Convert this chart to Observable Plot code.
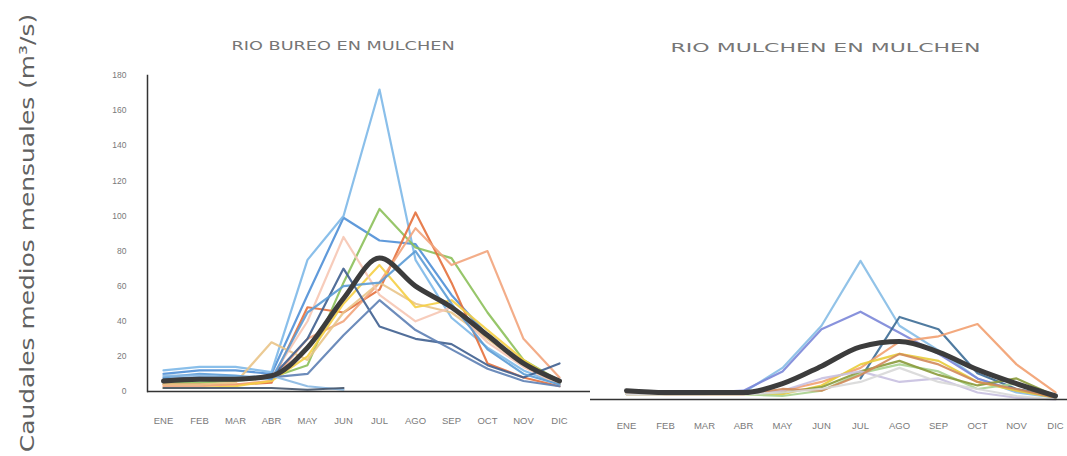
<!DOCTYPE html>
<html>
<head>
<meta charset="utf-8">
<script src="https://cdn.jsdelivr.net/npm/d3@7"></script>
<script src="https://cdn.jsdelivr.net/npm/@observablehq/plot@0.6"></script>
<style>
  body { margin: 0; background: #fff; }
  #wrap { position: relative; width: 1067px; height: 456px; overflow: hidden; background: #fff; }
  #left, #right { position: absolute; top: 0; }
  #left { left: 0; }
  #right { left: 590px; }
  .ttl { position: absolute; font-family: "DejaVu Sans", sans-serif; font-weight: 400;
         font-size: 13px; color: #767676; white-space: nowrap; }
  #ytitle { position: absolute; font-family: "DejaVu Sans", sans-serif;
            font-weight: 400; font-size: 20px; color: #616161; white-space: nowrap; }
</style>
</head>
<body>
<div id="wrap">
  <div id="left"></div>
  <div id="right"></div>
  <div class="ttl" id="t1"></div>
  <div class="ttl" id="t2"></div>
  <div id="ytitle"></div>
</div>
<script>
// ---- data ----
const months = ["ENE","FEB","MAR","ABR","MAY","JUN","JUL","AGO","SEP","OCT","NOV","DIC"];
const yTicks = [0, 20, 40, 60, 80, 100, 120, 140, 160, 180];
const titleBureo = "RIO BUREO EN MULCHEN";
const titleMulchen = "RIO MULCHEN EN MULCHEN";
const yTitle = "Caudales medios mensuales (m³/s)";

// Rio Bureo en Mulchen (one series per year)
const bureoA = [10, 12, 12, 10, 55, 99, 86, 84, 55, 32, 15, 5];
const bureoB = [12, 14, 14, 11, 75, 100, 172, 75, 42, 25, 12, 4];
const bureoC = [5, 5, 6, 8, 15, 62, 104, 82, 76, 45, 18, 6];
const bureoD = [4, 4, 4, 5, 48, 45, 58, 102, 62, 16, 8, 3];
const bureoE = [3, 3, 4, 6, 30, 40, 62, 93, 72, 80, 30, 8];
const bureoF = [4, 4, 5, 28, 18, 45, 62, 50, 45, 30, 15, 4];
const bureoG = [2, 2, 3, 6, 20, 50, 72, 48, 52, 35, 18, 5];
const bureoH = [6, 7, 7, 8, 40, 88, 55, 40, 48, 28, 14, 4];
const bureoI = [7, 8, 8, 8, 30, 70, 37, 30, 27, 15, 8, 16];
const bureoJ = [6, 7, 7, 8, 10, 32, 52, 35, 24, 13, 6, 3];
const bureoK = [8, 10, 9, 7, 45, 60, 62, 80, 50, 24, 10, 4];
const bureoL = [9, 9, 8, 9, 3, 1, null, null, null, null, null, null];
const bureoM = [2, 2, 2, 2, 1, 2, null, null, null, null, null, null];
const bureoMean = [6, 7, 7, 9, 25, 53, 76, 60, 48, 32, 16, 6];

// Rio Mulchen en Mulchen
const mulchenA = [4, 3, 3, 4, 18, 42, 79, 42, 28, 12, 4, 1];
const mulchenB = [4, 4, 4, 5, 16, 40, 50, 38, 26, 12, 5, 2];
const mulchenC = [null, null, null, null, null, null, 12, 47, 40, 15, 6, 2];
const mulchenD = [3, 3, 3, 3, 5, 10, 18, 33, 36, 43, 20, 4];
const mulchenE = [3, 3, 3, 3, 3, 8, 20, 26, 22, 10, 5, 1];
const mulchenF = [3, 3, 3, 3, 2, 5, 15, 20, 16, 6, 9, 1];
const mulchenG = [4, 4, 4, 4, 4, 7, 16, 22, 14, 8, 12, 2];
const mulchenH = [3, 3, 3, 3, 5, 12, 16, 10, 12, 4, 1, 0];
const mulchenI = [4, 3, 3, 3, 6, 5, 14, 26, 20, 10, 6, 1];
const mulchenJ = [3, 3, 3, 3, 4, 6, 10, 18, 10, 6, 2, 0];
const mulchenMean = [5, 4, 4, 4, 9, 19, 30, 33, 27, 17, 9, 2];

const bureoSeries = [bureoA, bureoB, bureoC, bureoD, bureoE, bureoF, bureoG, bureoH, bureoI, bureoJ, bureoK, bureoL, bureoM];
const mulchenSeries = [mulchenA, mulchenB, mulchenC, mulchenD, mulchenE, mulchenF, mulchenG, mulchenH, mulchenI, mulchenJ];

// ---- styles ----
const bureoColors = ["#4f8fd6", "#7db8e8", "#8cc05a", "#e4703c", "#f2a47c", "#e9c488", "#f5cf45", "#f6c6b4",
                     "#3f5f8f", "#5d7fb4", "#5b9bd5", "#8ab8e2", "#44546a"];
const mulchenColors = ["#86bde6", "#7b86d8", "#3d6d96", "#f2a070", "#e8cc3a", "#a9d18e", "#8a9a3a", "#c8c0e0",
                       "#d28a5a", "#d8d8d8"];
const meanColor = "#3c3c3c";

function rows(s) { return months.map((m, j) => ({month: m, value: s[j]})); }

const axisStyle = {fontFamily: "'Liberation Sans', 'DejaVu Sans', sans-serif", fontSize: "8.5px", color: "#7a7a7a", background: "transparent", overflow: "visible"};

const left = Plot.plot({
  width: 590, height: 456,
  marginLeft: 147, marginRight: 0, marginTop: 75, marginBottom: 65,
  style: axisStyle,
  x: {type: "point", domain: months, range: [160, 561.5], padding: 0},
  y: {domain: [0, 180]},
  marks: [
    Plot.axisY({ticks: yTicks, tickSize: 0, tickPadding: 21, label: null}),
    Plot.axisX({tickSize: 0, tickPadding: 26, label: null, fontSize: 9.5}),
    ...bureoSeries.map((s, i) => Plot.lineY(rows(s), {x: "month", y: "value", stroke: bureoColors[i], strokeWidth: 2.2, strokeOpacity: 0.9})),
    Plot.lineY(rows(bureoMean), {x: "month", y: "value", stroke: meanColor, strokeWidth: 5, curve: "monotone-x"}),
    Plot.frame({anchor: "left", stroke: "#333", strokeWidth: 1.5}),
    Plot.ruleY([0], {stroke: "#333", strokeWidth: 1.5})
  ]
});
document.getElementById("left").appendChild(left);

const right = Plot.plot({
  width: 477, height: 456,
  marginLeft: 0, marginRight: 0, marginTop: 83, marginBottom: 57,
  style: axisStyle,
  x: {type: "point", domain: months, range: [33, 467], padding: 0},
  y: {domain: [0, 180], axis: null},
  marks: [
    Plot.axisX({tickSize: 0, tickPadding: 23, label: null, fontSize: 9.5}),
    ...mulchenSeries.map((s, i) => Plot.lineY(rows(s), {x: "month", y: "value", stroke: mulchenColors[i], strokeWidth: 2.2, strokeOpacity: 0.9})),
    Plot.lineY(rows(mulchenMean), {x: "month", y: "value", stroke: meanColor, strokeWidth: 5, curve: "monotone-x"}),
    Plot.ruleY([0], {stroke: "#333", strokeWidth: 1.5})
  ]
});
document.getElementById("right").appendChild(right);

// titles, stretched horizontally to the widths seen in the original
function fitText(id, text, target, cx, cy, rot) {
  const el = document.getElementById(id);
  el.textContent = text;
  const w = el.offsetWidth, h = el.offsetHeight;
  const s = target / w;
  el.style.left = (cx - w / 2) + "px";
  el.style.top = (cy - h / 2) + "px";
  el.style.transformOrigin = "50% 50%";
  el.style.transform = (rot ? "rotate(-90deg) " : "") + "scaleX(" + s + ")";
}
fitText("t1", titleBureo, 223, 343, 45, false);
fitText("t2", titleMulchen, 310, 825, 47, false);
fitText("ytitle", yTitle, 438, 27, 233, true);
</script>
</body>
</html>
